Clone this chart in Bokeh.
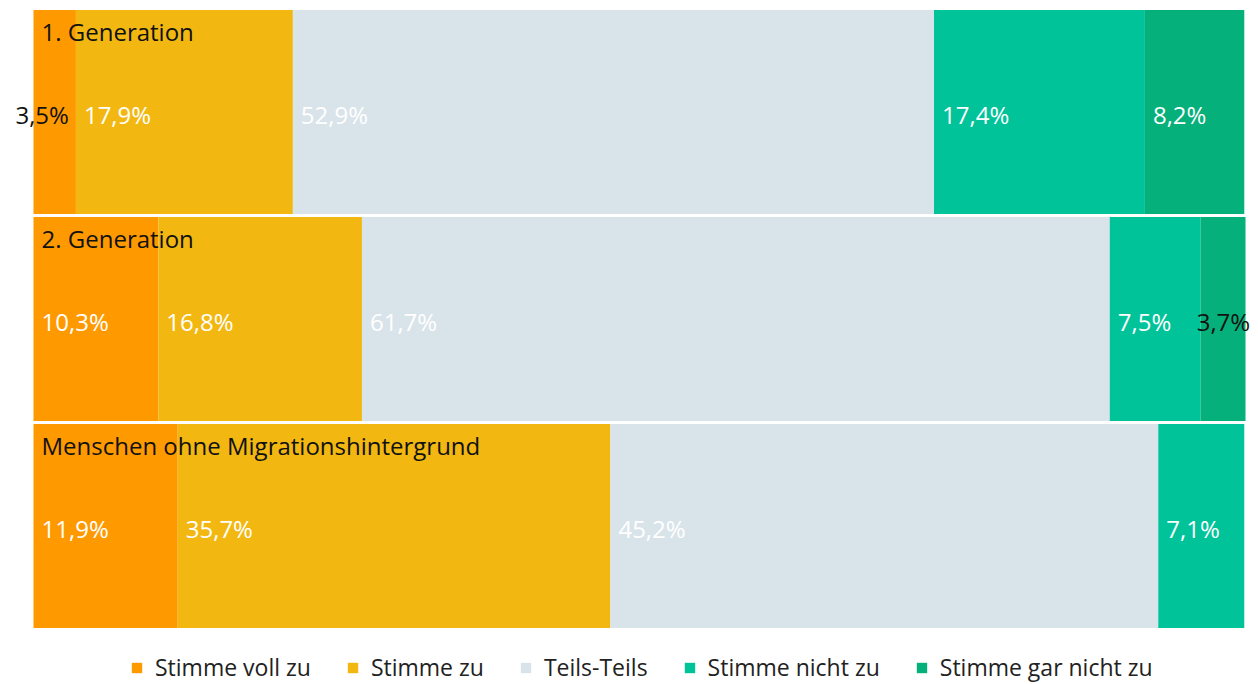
from bokeh.plotting import figure
from bokeh.models import ColumnDataSource, Range1d, Legend, LegendItem
from bokeh.core.properties import value
from bokeh.embed import file_html
from bokeh.resources import INLINE

categories = ["1. Generation", "2. Generation", "Menschen ohne Migrationshintergrund"]
series = ["Stimme voll zu", "Stimme zu", "Teils-Teils", "Stimme nicht zu", "Stimme gar nicht zu"]
stimme_voll_zu = [3.5, 10.3, 11.9]
stimme_zu = [17.9, 16.8, 35.7]
teils_teils = [52.9, 61.7, 45.2]
stimme_nicht_zu = [17.4, 7.5, 7.1]
stimme_gar_nicht_zu = [8.2, 3.7, 0.0]
colors = ["#FF9900", "#F2B811", "#D9E4EA", "#00C39A", "#05B07A"]

values = [stimme_voll_zu, stimme_zu, teils_teils, stimme_nicht_zu, stimme_gar_nicht_zu]
FONT = "Open Sans"

W, H = 1256, 683
TOP, BOTTOM = 8, 0
BAND_PX = 207.0
BAR_LEFT_PX, BAR_W_PX = 33, 1212
frame_h = H - TOP - BOTTOM
units = frame_h / BAND_PX
x_start = -BAR_LEFT_PX / BAR_W_PX * 100
x_end = 100 + (W - BAR_LEFT_PX - BAR_W_PX) / BAR_W_PX * 100

p = figure(width=W, height=H, output_backend="svg", toolbar_location=None,
           x_range=Range1d(x_start, x_end), y_range=Range1d(-0.5 + units, -0.5),
           min_border_left=0, min_border_right=0, min_border_top=TOP, min_border_bottom=BOTTOM)
p.axis.visible = False
p.grid.visible = False
p.outline_line_color = None
p.background_fill_color = "white"

rows = list(range(len(categories)))
bar_h = 0.985
left = [0.0] * len(categories)
renderers = []
lab_x, lab_y, lab_t, lab_c, lab_align, lab_off = [], [], [], [], [], []
for si, vals in enumerate(values):
    right = [l + v for l, v in zip(left, vals)]
    src = ColumnDataSource(dict(y=rows, left=left, right=right))
    r = p.hbar(y="y", left="left", right="right", height=bar_h, source=src,
               fill_color=colors[si], line_color=None)
    renderers.append(r)
    for ri, v in enumerate(vals):
        if v <= 0:
            continue
        txt = f"{v:.1f}%".replace(".", ",")
        if v < 4 and si == 0:
            lab_x.append(right[ri]); lab_align.append("right"); lab_off.append(-7)
        elif v < 4:
            lab_x.append(left[ri]); lab_align.append("left"); lab_off.append(-4)
        else:
            lab_x.append(left[ri]); lab_align.append("left"); lab_off.append(8)
        lab_y.append(ri)
        lab_t.append(txt)
        lab_c.append("#111111" if v < 4 else "#FFFFFF")
    left = right

lsrc = ColumnDataSource(dict(x=lab_x, y=lab_y, t=lab_t, c=lab_c, a=lab_align, o=lab_off))
p.text(x="x", y="y", text="t", source=lsrc, text_color="c", text_align="a",
       x_offset="o", y_offset=2, text_baseline="middle",
       text_font=value(FONT), text_font_size="24px")

csrc = ColumnDataSource(dict(x=[0] * len(categories), y=[r - bar_h / 2 for r in rows], t=categories))
p.text(x="x", y="y", text="t", source=csrc, text_color="#111111", text_align="left",
       x_offset=8, y_offset=21, text_baseline="middle",
       text_font=value(FONT), text_font_size="24px")

legend = Legend(items=[LegendItem(label=s, renderers=[r]) for s, r in zip(series, renderers)],
                orientation="horizontal", location=(130, 0),
                label_text_font=FONT, label_text_font_size="23px", label_text_color="#222222",
                glyph_width=13, glyph_height=13, label_standoff=12, spacing=35,
                label_height=20, border_line_color=None, background_fill_alpha=0,
                padding=0, margin=0)
p.add_layout(legend)

open("out.html", "w").write(file_html(p, INLINE))
